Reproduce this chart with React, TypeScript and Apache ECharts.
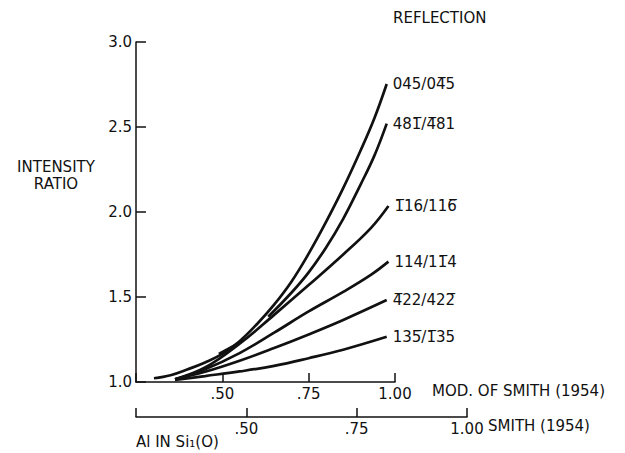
import React, { useEffect, useRef } from "react";
import * as echarts from "echarts";

// Intensity ratio vs. Al in Si1(O), x read on the "MOD. OF SMITH (1954)" scale
const curve045: [number, number][] = [[0.302, 1.022], [0.35, 1.04], [0.4, 1.075], [0.45, 1.115], [0.5, 1.165], [0.55, 1.24], [0.6, 1.34], [0.65, 1.455], [0.7, 1.59], [0.75, 1.755], [0.8, 1.94], [0.85, 2.14], [0.9, 2.36], [0.94, 2.55], [0.976, 2.753]];
const curve481: [number, number][] = [[0.633, 1.384], [0.7, 1.525], [0.75, 1.645], [0.8, 1.79], [0.85, 1.96], [0.9, 2.16], [0.94, 2.33], [0.976, 2.52]];
const curve481Piece: [number, number][] = [[0.49, 1.165], [0.55, 1.232]];
const curve116: [number, number][] = [[0.363, 1.016], [0.45, 1.085], [0.55, 1.225], [0.65, 1.395], [0.75, 1.57], [0.85, 1.75], [0.93, 1.905], [0.981, 2.035]];
const curve114: [number, number][] = [[0.363, 1.016], [0.45, 1.075], [0.55, 1.17], [0.65, 1.29], [0.75, 1.415], [0.85, 1.53], [0.93, 1.63], [0.981, 1.708]];
const curve422: [number, number][] = [[0.363, 1.016], [0.45, 1.06], [0.55, 1.125], [0.65, 1.2], [0.75, 1.28], [0.85, 1.365], [0.976, 1.482]];
const curve135: [number, number][] = [[0.363, 1.012], [0.45, 1.035], [0.55, 1.062], [0.65, 1.095], [0.75, 1.14], [0.85, 1.19], [0.976, 1.266]];

const OL = "\u0305";
const reflectionLabels = [
  "045/04" + OL + "5",
  "481" + OL + "/4" + OL + "81",
  "1" + OL + "16/116" + OL,
  "114/11" + OL + "4",
  "4" + OL + "22/422" + OL,
  "135" + OL + "/1" + OL + "35",
];

const FONT = "DejaVu Sans";
const INK = "#111";

function fmtX(v: number): string {
  if (Math.abs(v - 0.25) < 1e-9) return "";
  if (v >= 1) return v.toFixed(2);
  return v.toFixed(2).replace(/^0/, "");
}

export default function App() {
  const ref = useRef<HTMLDivElement>(null);
  useEffect(() => {
    if (!ref.current) return;
    const chart = echarts.init(ref.current, null, { renderer: "svg" });
    const lineSeries = (name: string, data: [number, number][], label?: string) => ({
      name,
      type: "line",
      xAxisIndex: 0,
      yAxisIndex: 0,
      data,
      smooth: 0.4,
      symbol: "none",
      lineStyle: { color: INK, width: 2.7 },
      endLabel: label
        ? { show: true, formatter: label, color: INK, fontFamily: FONT, fontSize: 15, distance: 6 }
        : { show: false },
      silent: true,
    });
    const axisLabel = (fmt: (v: number) => string) => ({
      formatter: fmt,
      color: INK,
      fontFamily: FONT,
      fontSize: 15,
      margin: 4,
    });
    chart.setOption({
      animation: false,
      backgroundColor: "#fff",
      grid: [
        { left: 136, top: 42, width: 259, height: 340 },
        { left: 136, top: 400, width: 331, height: 17 },
      ],
      xAxis: [
        {
          type: "value",
          gridIndex: 0,
          min: 0.25,
          max: 1,
          interval: 0.25,
          axisLine: { show: true, lineStyle: { color: INK, width: 1.5 } },
          axisTick: { show: true, inside: true, length: 9, lineStyle: { color: INK, width: 1.5 } },
          axisLabel: axisLabel(fmtX),
          splitLine: { show: false },
        },
        {
          type: "value",
          gridIndex: 1,
          min: 0.25,
          max: 1,
          interval: 0.25,
          axisLine: { show: true, lineStyle: { color: INK, width: 1.5 } },
          axisTick: { show: true, inside: true, length: 9, lineStyle: { color: INK, width: 1.5 } },
          axisLabel: axisLabel(fmtX),
          splitLine: { show: false },
        },
      ],
      yAxis: [
        {
          type: "value",
          gridIndex: 0,
          min: 1,
          max: 3,
          interval: 0.5,
          axisLine: { show: true, lineStyle: { color: INK, width: 1.5 } },
          axisTick: { show: true, inside: true, length: 10, lineStyle: { color: INK, width: 1.5 } },
          axisLabel: axisLabel((v: number) => v.toFixed(1)),
          splitLine: { show: false },
        },
        { type: "value", gridIndex: 1, show: false, min: 0, max: 1 },
      ],
      series: [
        lineSeries("045/045", curve045, reflectionLabels[0]),
        lineSeries("481/481", curve481, reflectionLabels[1]),
        lineSeries("481 piece", curve481Piece),
        lineSeries("116/116", curve116, reflectionLabels[2]),
        lineSeries("114/114", curve114, reflectionLabels[3]),
        lineSeries("422/422", curve422, reflectionLabels[4]),
        lineSeries("135/135", curve135, reflectionLabels[5]),
      ],
      graphic: [
        {
          type: "text",
          left: 393,
          top: 10,
          style: { text: "REFLECTION", fill: INK, font: `15px "${FONT}"` },
        },
        {
          type: "text",
          x: 56,
          y: 175,
          style: {
            text: "INTENSITY\nRATIO",
            fill: INK,
            font: `15px "${FONT}"`,
            align: "center",
            verticalAlign: "middle",
            lineHeight: 17,
          },
        },
        {
          type: "text",
          x: 432,
          y: 391,
          style: { text: "MOD. OF SMITH (1954)", fill: INK, font: `15px "${FONT}"`, verticalAlign: "middle" },
        },
        {
          type: "text",
          x: 488,
          y: 426,
          style: { text: "SMITH (1954)", fill: INK, font: `15px "${FONT}"`, verticalAlign: "middle" },
        },
        {
          type: "text",
          x: 136,
          y: 442,
          style: { text: "Al IN Si\u2081(O)", fill: INK, font: `15px "${FONT}"`, verticalAlign: "middle" },
        },
      ],
    });
    return () => chart.dispose();
  }, []);
  return (
    <div
      ref={ref}
      style={{ position: "absolute", left: 0, top: 0, width: 625, height: 453, background: "#fff" }}
    />
  );
}
